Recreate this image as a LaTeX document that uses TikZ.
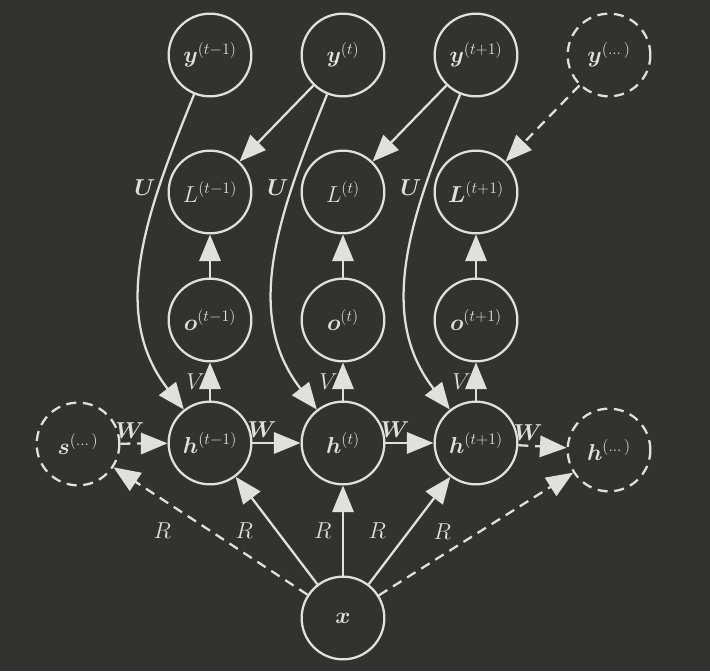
\documentclass[tikz,border=0pt]{standalone}
\usepackage{amsmath}
\usepackage{amssymb}
\usepackage{tikz}
\usetikzlibrary{arrows.meta}
\definecolor{backColor}{RGB}{50,50,48}
\definecolor{lineColor}{RGB}{224,224,220}

\begin{document}
\begin{tikzpicture}[x=0.75pt,y=0.75pt]

            \tikzstyle{unitNode} = [shape = circle, line width=1.7pt, draw=lineColor, text=lineColor, minimum size=62pt, inner sep=0pt, font=\LARGE];
            \tikzstyle{ghostNode} = [unitNode, dash pattern=on 7.5pt off 5pt];
            \tikzstyle{normalEdge} = [line width=1.7pt, lineColor, -{Triangle[length=20pt,width=16pt]}];
            \tikzstyle{ghostEdge} = [normalEdge, dash pattern=on 7.5pt off 5pt];
            \tikzstyle{weightLabel} = [text=lineColor, font=\LARGE];

            \fill[backColor] (0,0) rectangle (710,-671);
            \useasboundingbox (0,0) rectangle (710,-671);

            \node[unitNode]  (ya) at (210,-55) {$\boldsymbol{y}^{(t-1)}$};
            \node[unitNode]  (yb) at (343,-55) {$\boldsymbol{y}^{(t)}$};
            \node[unitNode]  (yc) at (476,-55) {$\boldsymbol{y}^{(t+1)}$};
            \node[ghostNode] (yd) at (609,-55) {$\boldsymbol{y}^{(\dots)}$};

            \node[unitNode] (la) at (210,-192) {$L^{(t-1)}$};
            \node[unitNode] (lb) at (343,-192) {$L^{(t)}$};
            \node[unitNode] (lc) at (476,-192) {$\boldsymbol{L}^{(t+1)}$};

            \node[unitNode] (oa) at (210,-320) {$\boldsymbol{o}^{(t-1)}$};
            \node[unitNode] (ob) at (343,-320) {$\boldsymbol{o}^{(t)}$};
            \node[unitNode] (oc) at (476,-320) {$\boldsymbol{o}^{(t+1)}$};

            \node[ghostNode] (s)  at ( 78,-444) {$\boldsymbol{s}^{(\dots)}$};
            \node[unitNode]  (ha) at (210,-443) {$\boldsymbol{h}^{(t-1)}$};
            \node[unitNode]  (hb) at (343,-443) {$\boldsymbol{h}^{(t)}$};
            \node[unitNode]  (hc) at (476,-443) {$\boldsymbol{h}^{(t+1)}$};
            \node[ghostNode] (hd) at (609,-450) {$\boldsymbol{h}^{(\dots)}$};

            \node[unitNode] (x) at (343,-618) {$\boldsymbol{x}$};

            \draw[normalEdge] (ya) to[out=-112, in=128] node[weightLabel, pos=0.28, left, inner sep=2pt] {$\boldsymbol{U}$} (ha);
            \draw[normalEdge] (yb) to[out=-112, in=128] node[weightLabel, pos=0.28, left, inner sep=2pt] {$\boldsymbol{U}$} (hb);
            \draw[normalEdge] (yc) to[out=-112, in=128] node[weightLabel, pos=0.28, left, inner sep=2pt] {$\boldsymbol{U}$} (hc);

            \draw[normalEdge] (yb) -- (la);
            \draw[normalEdge] (yc) -- (lb);
            \draw[ghostEdge]  (yd) -- (lc);

            \draw[normalEdge] (oa) -- (la);
            \draw[normalEdge] (ob) -- (lb);
            \draw[normalEdge] (oc) -- (lc);

            \draw[normalEdge] (ha) -- node[weightLabel, midway, left] {$V$} (oa);
            \draw[normalEdge] (hb) -- node[weightLabel, midway, left] {$V$} (ob);
            \draw[normalEdge] (hc) -- node[weightLabel, midway, left] {$V$} (oc);

            \draw[ghostEdge]  (s)  -- node[weightLabel, pos=0.2, above] {$\boldsymbol{W}$} (ha);
            \draw[normalEdge] (ha) -- node[weightLabel, pos=0.2, above] {$\boldsymbol{W}$} (hb);
            \draw[normalEdge] (hb) -- node[weightLabel, pos=0.2, above] {$\boldsymbol{W}$} (hc);
            \draw[ghostEdge]  (hc) -- node[weightLabel, pos=0.2, above] {$\boldsymbol{W}$} (hd);

            \draw[ghostEdge]  (x) -- node[weightLabel, midway, left=25.5pt] {$R$} (s);
            \draw[normalEdge] (x) -- node[weightLabel, midway, left=13.5pt] {$R$} (ha);
            \draw[normalEdge] (x) -- node[weightLabel, midway, left=4.5pt]  {$R$} (hb);
            \draw[normalEdge] (x) -- node[weightLabel, midway, left=13.5pt] {$R$} (hc);
            \draw[ghostEdge]  (x) -- node[weightLabel, midway, left=14.5pt, yshift=2pt] {$R$} (hd);
          \end{tikzpicture}
\end{document}
